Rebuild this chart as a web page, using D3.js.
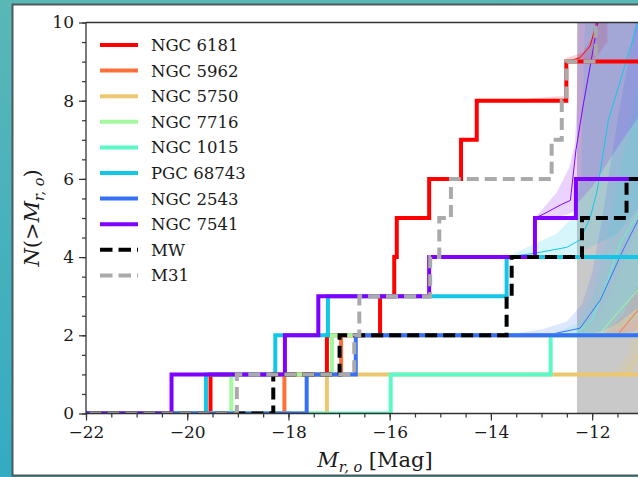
<!DOCTYPE html>
<html>
<head>
<meta charset="utf-8">
<script src="https://cdn.jsdelivr.net/npm/d3@7"></script>
<style>
  body { margin: 0; background: #fff; }
  svg { display: block; }
  svg text { font-family: "DejaVu Serif", "Liberation Serif", serif; fill: #1a1a1a; }
</style>
</head>
<body>
<svg id="chart" width="638" height="477"></svg>
<script>
// satellite magnitudes for each host (one step per satellite)
var ngc6181 = [-19.54, -17.24, -16.19, -15.91, -15.86, -15.22, -14.59, -14.28, -12.51];
var ngc5962 = [-18.08, -16.96];
var ngc5750 = [-17.24];
var ngc7716 = [-19.13, -17.14];
var ngc1015 = [-15.98, -12.82];
var pgc68743 = [-19.63, -18.26, -17.22, -13.69];
var ngc2543 = [-17.64, -16.67];
var ngc7541 = [-20.31, -18.07, -17.41, -15.22, -13.13, -12.32];
var mw = [-18.30, -16.99, -13.69, -13.59, -12.20, -11.32];
var m31 = [-19.02, -16.70, -16.60, -15.20, -15.02, -14.79, -12.80, -12.60, -12.51, -11.93, -11.90];

// model medians [mag, N]
var medNgc6181 = [[-12.51, 9.0], [-12.24, 9.1], [-12.04, 9.4], [-11.92, 9.95], [-11.84, 10.6]];
var medNgc7541 = [[-13.13, 5.0], [-12.99, 5.08], [-12.6, 5.35], [-12.43, 5.45], [-12.32, 6.74], [-12.17, 7.94], [-12.04, 8.87], [-11.88, 10.06], [-11.8, 10.8]];
var medPgc68743 = [[-13.69, 4.0], [-13.13, 4.1], [-12.5, 4.25], [-12.24, 4.44], [-12.04, 5.0], [-11.9, 5.7], [-11.68, 7.5], [-11.32, 9.04], [-11.09, 10.0], [-10.9, 10.8]];
var medNgc2543 = [[-13.6, 2.0], [-12.8, 2.03], [-12.24, 2.18], [-11.84, 2.9], [-11.39, 4.18], [-11.09, 4.95], [-10.6, 6.5]];
var medNgc1015 = [[-12.82, 2.0], [-12.3, 2.05], [-12.0, 2.4], [-11.71, 3.33], [-11.45, 4.35], [-11.09, 5.12], [-10.6, 6.3]];
var medNgc7716 = [[-12.5, 2.0], [-11.84, 2.05], [-11.45, 2.65], [-11.09, 3.16], [-10.6, 4.2]];
var medNgc5962 = [[-11.8, 2.0], [-11.49, 2.02], [-11.09, 2.65], [-10.6, 3.6]];
var medNgc5750 = [[-11.5, 1.0], [-11.3, 1.05], [-11.09, 1.5], [-10.6, 2.8]];

// model bands [mag, low, high]
var bandNgc6181 = [[-13.3, 8.0, 8.05], [-12.55, 8.0, 8.12], [-12.51, 9.0, 9.1], [-12.2, 9.0, 9.22], [-12.0, 9.05, 9.6], [-11.9, 9.15, 10.5], [-11.7, 9.5, 11.5]];
var bandNgc7541 = [[-13.13, 5.0, 5.0], [-12.7, 5.02, 5.65], [-12.45, 5.1, 6.3], [-12.34, 5.2, 6.9], [-12.3, 5.3, 8.0], [-12.27, 5.4, 11], [-12.0, 5.8, 11], [-11.5, 6.8, 11], [-10.6, 8.5, 11]];
var bandPgc68743 = [[-13.69, 4.0, 4.0], [-13.2, 4.0, 4.3], [-12.7, 4.02, 4.6], [-12.4, 4.05, 5.0], [-12.22, 4.1, 6.0], [-12.12, 4.2, 11], [-11.5, 4.6, 11], [-10.6, 6.0, 11]];
var bandNgc2543 = [[-13.75, 2.0, 2.0], [-13.0, 2.0, 2.15], [-12.5, 2.0, 2.35], [-12.2, 2.02, 2.8], [-12.0, 2.05, 3.6], [-11.8, 2.1, 5.0], [-11.5, 2.3, 7.5], [-11.0, 2.8, 11], [-10.6, 3.3, 11]];
var bandNgc1015 = [[-12.82, 2.0, 2.0], [-12.3, 2.0, 2.3], [-12.0, 2.05, 3.0], [-11.7, 2.2, 4.5], [-11.4, 2.6, 6.5], [-11.0, 3.3, 9.0], [-10.6, 4.0, 11]];
var bandNgc7716 = [[-12.5, 2.0, 2.0], [-11.9, 2.0, 2.4], [-11.5, 2.15, 3.5], [-11.0, 2.5, 5.0], [-10.6, 3.0, 6.5]];
var bandNgc5962 = [[-11.8, 2.0, 2.0], [-11.4, 2.0, 2.5], [-11.0, 2.2, 3.5], [-10.6, 2.6, 4.8]];
var bandNgc5750 = [[-11.6, 1.0, 1.0], [-11.3, 1.0, 1.5], [-11.0, 1.2, 2.8], [-10.6, 1.6, 4.0]];

var completeness = -12.3;
var xTicks = [-22, -20, -18, -16, -14, -12];
var yTicks = [0, 2, 4, 6, 8, 10];

var hosts = [
  { name: "NGC 6181", mags: ngc6181, color: "#ff0000", med: medNgc6181, band: bandNgc6181 },
  { name: "NGC 5962", mags: ngc5962, color: "#ff6f39", med: medNgc5962, band: bandNgc5962 },
  { name: "NGC 5750", mags: ngc5750, color: "#edc76f", med: medNgc5750, band: bandNgc5750 },
  { name: "NGC 7716", mags: ngc7716, color: "#a4f99f", med: medNgc7716, band: bandNgc7716 },
  { name: "NGC 1015", mags: ngc1015, color: "#5bf9c7", med: medNgc1015, band: bandNgc1015 },
  { name: "PGC 68743", mags: pgc68743, color: "#12c7e6", med: medPgc68743, band: bandPgc68743 },
  { name: "NGC 2543", mags: ngc2543, color: "#3770f9", med: medNgc2543, band: bandNgc2543 },
  { name: "NGC 7541", mags: ngc7541, color: "#8000ff", med: medNgc7541, band: bandNgc7541 }
];
var refs = [
  { name: "MW", mags: mw, color: "#000000" },
  { name: "M31", mags: m31, color: "#aaaaaa" }
];

var SERIF = "DejaVu Serif";
var svg = d3.select("#chart");
var defs = svg.append("defs");

var grad = defs.append("linearGradient").attr("id", "bg")
    .attr("x1", 0).attr("y1", 0).attr("x2", 0).attr("y2", 1);
grad.append("stop").attr("offset", "0%").attr("stop-color", "#5ab7b6");
grad.append("stop").attr("offset", "100%").attr("stop-color", "#34abc3");
svg.append("rect").attr("width", 638).attr("height", 477).attr("fill", "url(#bg)");
svg.append("rect").attr("x", 12.5).attr("y", 4.5).attr("width", 660).attr("height", 471)
    .attr("fill", "#fff").attr("stroke", "#4e5a5c").attr("stroke-width", 2);

var plotLeft = 86, plotTop = 22.5, plotBottom = 413.5, plotRight = 663;
var x = d3.scaleLinear().domain([-22, -10.6]).range([plotLeft, plotRight]);
var y = d3.scaleLinear().domain([0, 10]).range([plotBottom, plotTop]);

defs.append("clipPath").attr("id", "plot")
  .append("rect").attr("x", plotLeft).attr("y", plotTop)
  .attr("width", plotRight - plotLeft).attr("height", plotBottom - plotTop);

var plot = svg.append("g").attr("clip-path", "url(#plot)");

plot.append("rect")
    .attr("x", x(completeness)).attr("y", plotTop)
    .attr("width", plotRight - x(completeness)).attr("height", plotBottom - plotTop)
    .attr("fill", "#c9c9c9");

var area = d3.area()
    .x(function(d) { return x(d[0]); })
    .y0(function(d) { return y(d[1]); })
    .y1(function(d) { return y(d[2]); });
var line = d3.line()
    .x(function(d) { return x(d[0]); })
    .y(function(d) { return y(d[1]); });

hosts.forEach(function(h) {
  plot.append("path").attr("d", area(h.band))
      .attr("fill", h.color).attr("fill-opacity", 0.17);
});
hosts.forEach(function(h) {
  plot.append("path").attr("d", line(h.med))
      .attr("fill", "none").attr("stroke", h.color).attr("stroke-width", 1);
});

var step = d3.line()
    .x(function(d) { return x(d[0]); })
    .y(function(d) { return y(d[1]); })
    .curve(d3.curveStepAfter);

function cumulative(mags) {
  var pts = [[-23, 0]];
  mags.forEach(function(m, i) { pts.push([m, i + 1]); });
  pts.push([-10, mags.length]);
  return pts;
}

hosts.forEach(function(h) {
  plot.append("path").attr("d", step(cumulative(h.mags)))
      .attr("fill", "none").attr("stroke", h.color).attr("stroke-width", 4);
});
refs.forEach(function(r) {
  plot.append("path").attr("d", step(cumulative(r.mags)))
      .attr("fill", "none").attr("stroke", r.color).attr("stroke-width", 4)
      .attr("stroke-dasharray", "12,6");
});

// spines
[[plotLeft, plotTop, plotRight, plotTop], [plotLeft, plotBottom, plotRight, plotBottom],
 [plotLeft, plotTop, plotLeft, plotBottom]].forEach(function(s) {
  svg.append("line").attr("x1", s[0]).attr("y1", s[1]).attr("x2", s[2]).attr("y2", s[3])
      .attr("stroke", "#333").attr("stroke-width", 1.3);
});

// axes
svg.append("g").attr("transform", "translate(0," + plotBottom + ")")
    .call(d3.axisBottom(x).tickValues(d3.range(-22, -10.9, 0.5)).tickSize(4).tickFormat(""));
svg.append("g").attr("transform", "translate(0," + plotBottom + ")")
    .call(d3.axisBottom(x).tickValues(xTicks).tickSize(7).tickPadding(5)
      .tickFormat(function(d) { return d < 0 ? "\u2212" + Math.abs(d) : d; }));
svg.append("g").attr("transform", "translate(" + plotLeft + ",0)")
    .call(d3.axisLeft(y).tickValues(d3.range(0, 10.01, 0.5)).tickSize(4).tickFormat(""));
svg.append("g").attr("transform", "translate(" + plotLeft + ",0)")
    .call(d3.axisLeft(y).tickValues(yTicks).tickSize(7).tickPadding(5));

svg.selectAll(".domain").remove();
svg.selectAll(".tick line").attr("stroke", "#333").attr("stroke-width", 1.2);
svg.selectAll(".tick text").attr("font-family", SERIF).attr("font-size", 17).attr("fill", "#1a1a1a");

// axis labels
var xl = svg.append("text").attr("x", 375).attr("y", 467).attr("text-anchor", "middle")
    .attr("font-family", SERIF).attr("font-size", 21);
xl.append("tspan").attr("font-style", "italic").text("M");
xl.append("tspan").attr("dy", 5).attr("font-style", "italic").attr("font-size", 14.5).text("r, o");
xl.append("tspan").attr("dy", -5).text(" [Mag]");

var yl = svg.append("text").attr("transform", "translate(39,218) rotate(-90)")
    .attr("text-anchor", "middle").attr("font-family", SERIF).attr("font-size", 21);
yl.append("tspan").attr("font-style", "italic").text("N");
yl.append("tspan").text("(>");
yl.append("tspan").attr("font-style", "italic").text("M");
yl.append("tspan").attr("dy", 5).attr("font-style", "italic").attr("font-size", 14.5).text("r, o");
yl.append("tspan").attr("dy", -5).text(")");

// legend
var legend = svg.append("g");
hosts.concat(refs).forEach(function(d, i) {
  var ly = 45 + i * 25.6;
  legend.append("line").attr("x1", 100).attr("x2", 138).attr("y1", ly).attr("y2", ly)
      .attr("stroke", d.color).attr("stroke-width", 4)
      .attr("stroke-dasharray", i >= hosts.length ? "12.5,6" : null);
  legend.append("text").attr("x", 151).attr("y", ly).attr("dy", "0.36em")
      .attr("font-family", SERIF).attr("font-size", 16.5).text(d.name);
});
</script>
</body>
</html>
